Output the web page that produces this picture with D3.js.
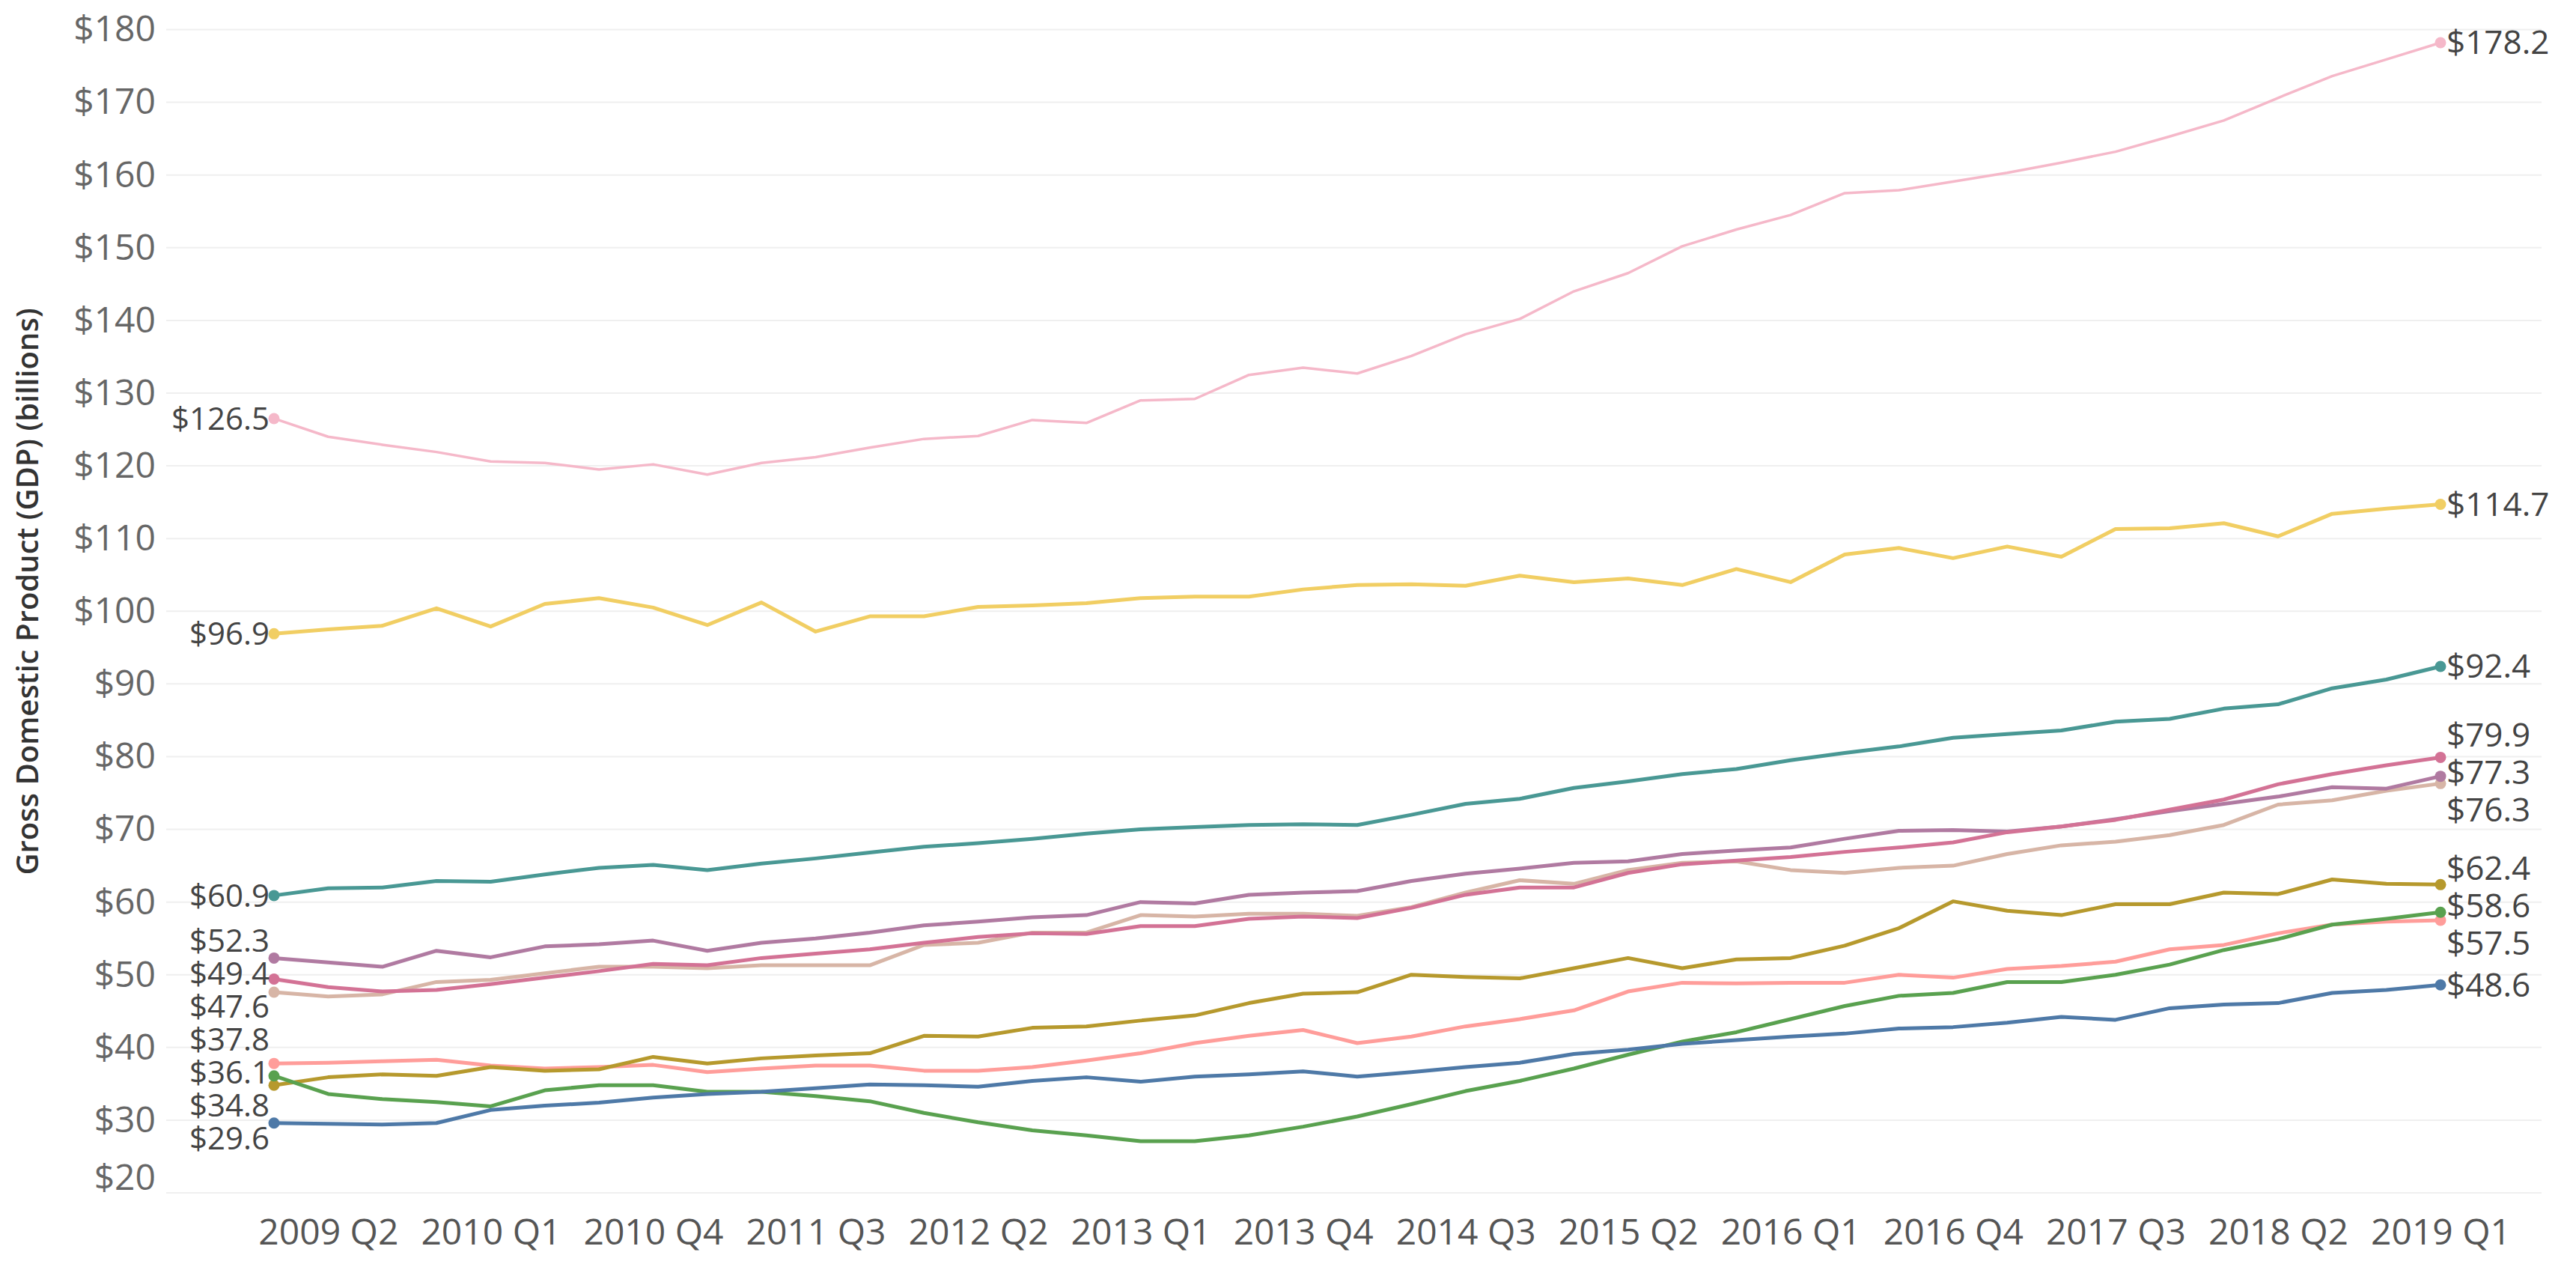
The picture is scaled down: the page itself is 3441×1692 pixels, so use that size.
<!DOCTYPE html>
<html>
<head>
<meta charset="utf-8">
<script src="https://cdn.jsdelivr.net/npm/d3@7"></script>
<style>
  body { margin: 0; background: #fff; }
  svg text { font-family: "Open Sans", sans-serif; }
</style>
</head>
<body>
<div id="chart"></div>
<script>
const width = 3441;
const height = 1692;

// quarters on the x axis, 2009 Q1 .. 2019 Q1
const quarters = [
  "2009 Q1", "2009 Q2", "2009 Q3", "2009 Q4", "2010 Q1", "2010 Q2", "2010 Q3", "2010 Q4",
  "2011 Q1", "2011 Q2", "2011 Q3", "2011 Q4", "2012 Q1", "2012 Q2", "2012 Q3", "2012 Q4",
  "2013 Q1", "2013 Q2", "2013 Q3", "2013 Q4", "2014 Q1", "2014 Q2", "2014 Q3", "2014 Q4",
  "2015 Q1", "2015 Q2", "2015 Q3", "2015 Q4", "2016 Q1", "2016 Q2", "2016 Q3", "2016 Q4",
  "2017 Q1", "2017 Q2", "2017 Q3", "2017 Q4", "2018 Q1", "2018 Q2", "2018 Q3", "2018 Q4",
  "2019 Q1"
];
const xTickLabels = ["2009 Q2", "2010 Q1", "2010 Q4", "2011 Q3", "2012 Q2", "2013 Q1", "2013 Q4",
  "2014 Q3", "2015 Q2", "2016 Q1", "2016 Q4", "2017 Q3", "2018 Q2", "2019 Q1"];
const yTicks = [20, 30, 40, 50, 60, 70, 80, 90, 100, 110, 120, 130, 140, 150, 160, 170, 180];

// GDP in billions, one array per series
const pinkValues = [126.5, 124.0, 122.9, 121.9, 120.6, 120.4, 119.5, 120.2, 118.8, 120.4,
  121.2, 122.5, 123.7, 124.1, 126.3, 125.9, 129.0, 129.2, 132.5, 133.5,
  132.7, 135.1, 138.1, 140.2, 144.0, 146.5, 150.2, 152.5, 154.5, 157.5,
  157.9, 159.1, 160.3, 161.7, 163.2, 165.3, 167.5, 170.6, 173.6, 175.9, 178.2];
const yellowValues = [96.9, 97.5, 98.0, 100.4, 97.9, 101.0, 101.8, 100.5, 98.1, 101.2,
  97.2, 99.3, 99.3, 100.6, 100.8, 101.1, 101.8, 102.0, 102.0, 103.0,
  103.6, 103.7, 103.5, 104.9, 104.0, 104.5, 103.6, 105.8, 104.0, 107.8,
  108.7, 107.3, 108.9, 107.5, 111.3, 111.4, 112.1, 110.3, 113.4, 114.1, 114.7];
const tealValues = [60.9, 61.9, 62.0, 62.9, 62.8, 63.8, 64.7, 65.1, 64.4, 65.3,
  66.0, 66.8, 67.6, 68.1, 68.7, 69.4, 70.0, 70.3, 70.6, 70.7,
  70.6, 72.0, 73.5, 74.2, 75.7, 76.6, 77.6, 78.3, 79.5, 80.5,
  81.4, 82.6, 83.1, 83.6, 84.8, 85.2, 86.6, 87.2, 89.4, 90.6, 92.4];
const mauveValues = [52.3, 51.7, 51.1, 53.3, 52.4, 53.9, 54.2, 54.7, 53.3, 54.4,
  55.0, 55.8, 56.8, 57.3, 57.9, 58.2, 60.0, 59.8, 61.0, 61.3,
  61.5, 62.9, 63.9, 64.6, 65.4, 65.6, 66.6, 67.1, 67.5, 68.7,
  69.8, 69.9, 69.7, 70.4, 71.4, 72.5, 73.5, 74.5, 75.8, 75.6, 77.3];
const magentaValues = [49.4, 48.3, 47.7, 47.9, 48.7, 49.6, 50.5, 51.5, 51.3, 52.3,
  52.9, 53.5, 54.4, 55.2, 55.7, 55.6, 56.7, 56.7, 57.7, 58.0,
  57.8, 59.2, 61.0, 62.0, 62.0, 64.0, 65.2, 65.7, 66.2, 66.9,
  67.5, 68.2, 69.6, 70.4, 71.3, 72.7, 74.1, 76.2, 77.6, 78.8, 79.9];
const tanValues = [47.6, 47.0, 47.3, 49.0, 49.3, 50.2, 51.1, 51.1, 50.9, 51.3,
  51.3, 51.3, 54.1, 54.4, 55.8, 55.8, 58.2, 58.0, 58.4, 58.4,
  58.1, 59.3, 61.3, 63.0, 62.5, 64.4, 65.4, 65.6, 64.4, 64.0,
  64.7, 65.0, 66.6, 67.8, 68.3, 69.2, 70.6, 73.4, 74.0, 75.3, 76.3];
const salmonValues = [37.8, 37.9, 38.1, 38.3, 37.5, 37.1, 37.3, 37.6, 36.6, 37.1,
  37.5, 37.5, 36.8, 36.8, 37.3, 38.2, 39.2, 40.6, 41.6, 42.4,
  40.6, 41.5, 42.9, 43.9, 45.1, 47.7, 48.9, 48.8, 48.9, 48.9,
  50.0, 49.6, 50.8, 51.2, 51.8, 53.5, 54.1, 55.7, 56.9, 57.3, 57.5];
const goldValues = [34.8, 35.9, 36.3, 36.1, 37.3, 36.8, 37.0, 38.7, 37.8, 38.5,
  38.9, 39.2, 41.6, 41.5, 42.7, 42.9, 43.7, 44.4, 46.1, 47.4,
  47.6, 50.0, 49.7, 49.5, 50.9, 52.3, 50.9, 52.1, 52.3, 54.0,
  56.4, 60.1, 58.8, 58.2, 59.7, 59.7, 61.3, 61.1, 63.1, 62.5, 62.4];
const greenValues = [36.1, 33.6, 32.9, 32.5, 31.9, 34.1, 34.8, 34.8, 33.9, 33.9,
  33.3, 32.6, 31.0, 29.7, 28.6, 27.9, 27.1, 27.1, 27.9, 29.1,
  30.5, 32.2, 34.0, 35.4, 37.1, 39.0, 40.8, 42.1, 43.9, 45.7,
  47.1, 47.5, 49.0, 49.0, 50.0, 51.4, 53.4, 54.9, 56.9, 57.7, 58.6];
const blueValues = [29.6, 29.5, 29.4, 29.6, 31.4, 32.0, 32.4, 33.1, 33.6, 33.9,
  34.4, 34.9, 34.8, 34.6, 35.4, 35.9, 35.3, 36.0, 36.3, 36.7,
  36.0, 36.6, 37.3, 37.9, 39.1, 39.7, 40.5, 41.0, 41.5, 41.9,
  42.6, 42.8, 43.4, 44.2, 43.8, 45.4, 45.9, 46.1, 47.5, 47.9, 48.6];

// series table (colors follow the Tableau 20 palette)
const series = [
  { values: pinkValues, color: "#F5B8C9", width: 3.5 },
  { values: yellowValues, color: "#F1CE63", width: 5 },
  { values: tealValues, color: "#499894", width: 5 },
  { values: tanValues, color: "#D7B5A6", width: 5 },
  { values: mauveValues, color: "#B07AA1", width: 5 },
  { values: magentaValues, color: "#D37295", width: 5 },
  { values: salmonValues, color: "#FF9D9A", width: 5 },
  { values: goldValues, color: "#B6992D", width: 5 },
  { values: greenValues, color: "#59A14F", width: 5 },
  { values: blueValues, color: "#4E79A7", width: 5 }
];

const x = d3.scalePoint().domain(quarters).range([366, 3260]);
const y = d3.scaleLinear().domain([20, 180]).range([1593, 39.5]);
const fmt = d => "$" + d3.format(".1f")(d);

const svg = d3.select("#chart").append("svg")
  .attr("width", width)
  .attr("height", height);

// horizontal gridlines
svg.append("g")
  .selectAll("line")
  .data(yTicks)
  .enter().append("line")
  .attr("x1", 222)
  .attr("x2", 3395)
  .attr("y1", d => y(d))
  .attr("y2", d => y(d))
  .attr("stroke", "#efefef")
  .attr("stroke-width", 2);

// y axis
const yAxis = svg.append("g")
  .attr("transform", "translate(208,0)")
  .call(d3.axisLeft(y).tickValues(yTicks).tickSize(0).tickPadding(0).tickFormat(d => "$" + d));
yAxis.select(".domain").remove();
yAxis.selectAll("text")
  .attr("font-size", 48)
  .attr("fill", "#666")
  .attr("font-family", "Open Sans, sans-serif")
  // keep the lowest label inside the pane, as the original does
  .attr("dy", d => d === 20 ? "-0.1em" : "0.32em");

// x axis
const xAxis = svg.append("g")
  .attr("transform", "translate(0,1628)")
  .call(d3.axisBottom(x).tickValues(xTickLabels).tickSize(0).tickPadding(0));
xAxis.select(".domain").remove();
xAxis.selectAll("text")
  .attr("font-size", 48)
  .attr("fill", "#555")
  .attr("font-family", "Open Sans, sans-serif");

// y axis title
svg.append("text")
  .attr("transform", "translate(40,790) rotate(-90)")
  .attr("text-anchor", "middle")
  .attr("dominant-baseline", "middle")
  .attr("font-size", 40)
  .attr("font-weight", 600)
  .attr("fill", "#333")
  .text("Gross Domestic Product (GDP) (billions)");

// lines
const line = d3.line()
  .x((d, i) => x(quarters[i]))
  .y(d => y(d));

svg.append("g")
  .selectAll("path")
  .data(series)
  .enter().append("path")
  .attr("d", d => line(d.values))
  .attr("fill", "none")
  .attr("stroke", d => d.color)
  .attr("stroke-width", d => d.width)
  .attr("stroke-linejoin", "round");

// end point dots
const last = quarters.length - 1;
const dots = [];
series.forEach(s => {
  dots.push({ i: 0, v: s.values[0], color: s.color });
  dots.push({ i: last, v: s.values[last], color: s.color });
});
svg.append("g")
  .selectAll("circle")
  .data(dots)
  .enter().append("circle")
  .attr("cx", d => x(quarters[d.i]))
  .attr("cy", d => y(d.v))
  .attr("r", 7.5)
  .attr("fill", d => d.color);

// spread labels apart so they don't sit on top of each other
function spread(labels, gap) {
  labels.sort((a, b) => a.y - b.y);
  for (let k = 0; k < 200; k++) {
    let moved = false;
    for (let i = 1; i < labels.length; i++) {
      const d = labels[i].y - labels[i - 1].y;
      if (d < gap - 0.01) {
        const s = (gap - d) / 2;
        labels[i].y += s;
        labels[i - 1].y -= s;
        moved = true;
      }
    }
    if (!moved) break;
  }
  return labels;
}

const startLabels = spread(series.map(s => ({ v: s.values[0], y: y(s.values[0]) })), 44);
const endLabels = spread(series.map(s => ({ v: s.values[last], y: y(s.values[last]) })), 50);

svg.append("g")
  .selectAll("text")
  .data(startLabels)
  .enter().append("text")
  .attr("x", x(quarters[0]) - 6)
  .attr("y", d => d.y)
  .attr("dy", "0.35em")
  .attr("text-anchor", "end")
  .attr("font-size", 42)
  .attr("fill", "#444")
  .text(d => fmt(d.v));

svg.append("g")
  .selectAll("text")
  .data(endLabels)
  .enter().append("text")
  .attr("x", x(quarters[last]) + 8)
  .attr("y", d => d.y)
  .attr("dy", "0.35em")
  .attr("text-anchor", "start")
  .attr("font-size", 44)
  .attr("fill", "#444")
  .text(d => fmt(d.v));
</script>
</body>
</html>
